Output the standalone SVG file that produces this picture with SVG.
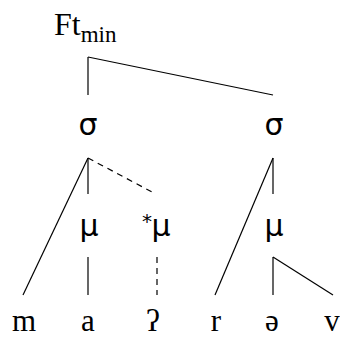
<svg xmlns="http://www.w3.org/2000/svg" width="340" height="338" viewBox="0 0 340 338">
<style>
.lat{font-family:"Liberation Serif","Times New Roman",serif;font-size:31px;fill:#000;text-anchor:middle}
.gr{font-family:"DejaVu Sans","Noto Sans",sans-serif;font-size:30px;fill:#000;text-anchor:middle}
.ln{stroke:#000;stroke-width:1.2;fill:none}
.ds{stroke:#000;stroke-width:1.2;fill:none;stroke-dasharray:6,5}
</style>
<rect width="340" height="338" fill="#fff"/>
<g id="ft"><text x="54" y="35" font-family="Liberation Serif, serif" font-size="32" fill="#000">Ft<tspan font-size="23" dy="7">min</tspan></text></g>
<g id="sigma1"><text class="gr" x="88" y="135">σ</text></g>
<g id="sigma2"><text class="gr" x="274" y="135">σ</text></g>
<g id="mu1"><text class="gr" x="89" y="236">μ</text></g>
<g id="mu2"><text class="gr" x="161" y="236">μ</text><text x="147" y="228" font-family="DejaVu Sans, sans-serif" font-size="20" text-anchor="middle" fill="#000">*</text></g>
<g id="mu3"><text class="gr" x="274" y="236">μ</text></g>
<g id="m"><text class="lat" x="24" y="331">m</text></g>
<g id="a"><text class="lat" x="88" y="331">a</text></g>
<g id="glottal"><text class="lat" x="153" y="331">ʔ</text></g>
<g id="r"><text class="lat" x="216" y="331">r</text></g>
<g id="schwa"><text class="lat" x="272" y="331">ə</text></g>
<g id="v"><text class="lat" x="332" y="331">v</text></g>
<g id="connectors">
<line class="ln" x1="88" y1="57" x2="88" y2="95"/>
<line class="ln" x1="88" y1="57" x2="273" y2="95"/>
<line class="ln" x1="88" y1="158" x2="88" y2="194"/>
<line class="ln" x1="88" y1="158" x2="23" y2="295"/>
<line class="ds" x1="88" y1="158" x2="152" y2="192" stroke-dasharray="7,6"/>
<line class="ln" x1="273" y1="158" x2="273" y2="194"/>
<line class="ln" x1="273" y1="158" x2="215" y2="295"/>
<line class="ln" x1="88" y1="257" x2="88" y2="295"/>
<line class="ds" x1="157" y1="257" x2="157" y2="295"/>
<line class="ln" x1="273" y1="257" x2="273" y2="295"/>
<line class="ln" x1="273" y1="257" x2="333" y2="295"/>
</g>
</svg>
